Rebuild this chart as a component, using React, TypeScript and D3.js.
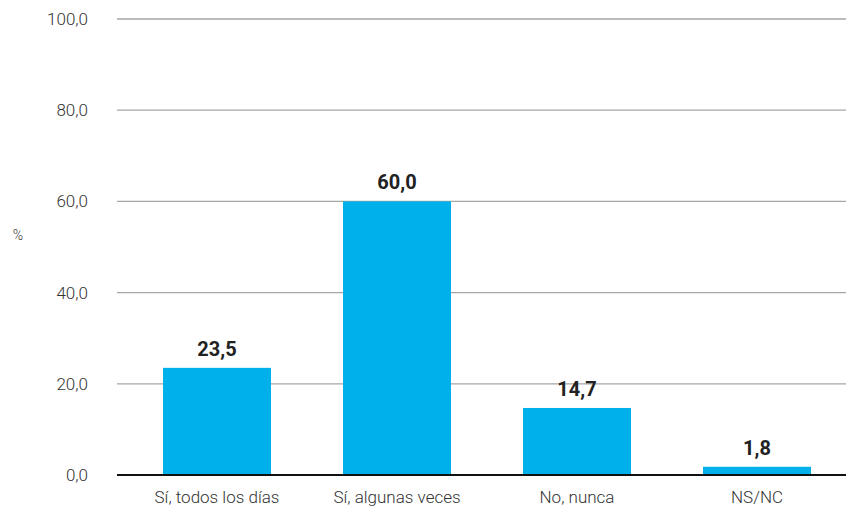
import React from "react";
import * as d3 from "d3";

const categories = ["Sí, todos los días", "Sí, algunas veces", "No, nunca", "NS/NC"];
const values = [23.5, 60.0, 14.7, 1.8];
const yTicks = [0, 20, 40, 60, 80, 100];

const W = 848;
const H = 514;

export default function App() {
  const y = d3.scaleLinear().domain([0, 100]).range([475, 19]);
  const x = d3
    .scaleBand<string>()
    .domain(categories)
    .range([127, 847])
    .paddingInner(0.4)
    .paddingOuter(0.2);
  const fmt = (v: number) => v.toFixed(1).replace(".", ",");
  const font = "Roboto, 'Open Sans', sans-serif";

  return (
    <svg
      width={W}
      height={H}
      style={{ position: "absolute", left: 0, top: 0, background: "#fff" }}
      fontFamily={font}
    >
      {yTicks.map((t) => (
        <g key={t}>
          {t !== 0 && (
            <line x1={117} x2={846} y1={y(t)} y2={y(t)} stroke="#a6a6a6" strokeWidth={1.3} />
          )}
          <text
            x={88}
            y={y(t) + 6}
            textAnchor="end"
            fontSize={17}
            fontWeight={300}
            fill="#333"
          >
            {fmt(t)}
          </text>
        </g>
      ))}
      <text x={18} y={240} textAnchor="middle" fontSize={14} fontWeight={300} fill="#333">
        %
      </text>
      {categories.map((c, i) => (
        <g key={c}>
          <rect
            x={x(c)!}
            y={y(values[i])}
            width={x.bandwidth()}
            height={y(0) - y(values[i])}
            fill="#00b0ea"
          />
          <text
            x={x(c)! + x.bandwidth() / 2}
            y={y(values[i]) - 12}
            textAnchor="middle"
            fontSize={20}
            fontWeight={700}
            fill="#222"
          >
            {fmt(values[i])}
          </text>
          <text
            x={x(c)! + x.bandwidth() / 2}
            y={503}
            textAnchor="middle"
            fontSize={17}
            fontWeight={300}
            fill="#333"
          >
            {c}
          </text>
        </g>
      ))}
      <line x1={117} x2={846} y1={y(0)} y2={y(0)} stroke="#111" strokeWidth={2} />
    </svg>
  );
}
